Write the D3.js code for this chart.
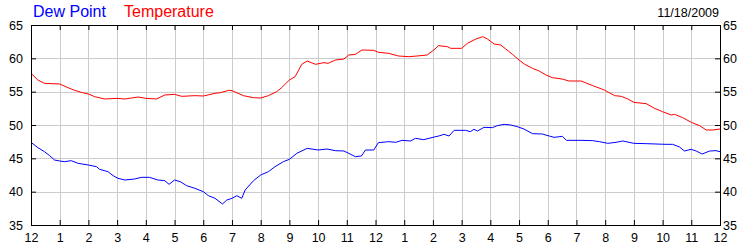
<!DOCTYPE html>
<html>
<head>
<meta charset="utf-8">
<script src="https://cdn.jsdelivr.net/npm/d3@7"></script>
<style>
  html, body { margin: 0; padding: 0; background: #fff; }
  svg { display: block; font-family: "Liberation Sans", Arial, sans-serif; }
</style>
</head>
<body>
<div id="chart"></div>
<script>
// hours since midnight, 11/18/2009
const tempHours = [0, 0.24, 0.47, 1.0, 1.29, 1.52, 1.75, 2.0, 2.22, 2.57, 3.0, 3.27, 3.73, 4.0, 4.37, 4.66,
  5.0, 5.25, 5.71, 6.0, 6.41, 6.6, 6.88, 7.0, 7.4, 7.75, 8.0, 8.27, 8.56, 8.73, 9.0, 9.2, 9.43, 9.62,
  9.91, 10.2, 10.35, 10.6, 10.9, 11.07, 11.3, 11.53, 11.94, 12.1, 12.46, 12.8, 13.16, 13.45, 13.8,
  14.03, 14.2, 14.5, 14.62, 15.0, 15.2, 15.5, 15.73, 15.9, 16.13, 16.36, 16.54, 16.77, 17.0, 17.2,
  17.47, 17.7, 17.94, 18.16, 18.5, 18.74, 19.16, 19.57, 19.97, 20.33, 20.56, 20.79, 21.0, 21.43,
  21.72, 22.0, 22.3, 22.42, 22.7, 23.0, 23.29, 23.52, 23.75, 24.0];
const tempValues = [57.75, 56.75, 56.25, 56.15, 55.6, 55.2, 54.9, 54.65, 54.25, 53.9, 54.0, 53.9, 54.2, 54.0, 53.9, 54.5,
  54.6, 54.3, 54.4, 54.35, 54.75, 54.85, 55.2, 55.15, 54.4, 54.1, 54.05, 54.4, 55.0, 55.6, 56.75, 57.25, 59.1, 59.6,
  59.1, 59.35, 59.25, 59.75, 59.9, 60.5, 60.6, 61.25, 61.2, 60.9, 60.75, 60.35, 60.25, 60.35, 60.5,
  61.25, 61.9, 61.75, 61.5, 61.5, 62.25, 62.9, 63.25, 62.9, 62.15, 62.0, 61.4, 60.6, 59.75, 59.1,
  58.5, 58.1, 57.5, 57.1, 56.9, 56.6, 56.6, 55.9, 55.25, 54.4, 54.3, 53.9, 53.4, 53.2,
  52.5, 52.0, 51.5, 51.6, 51.1, 50.4, 49.9, 49.25, 49.25, 49.4];

const dewHours = [0, 0.24, 0.47, 0.65, 0.82, 1.0, 1.17, 1.4, 1.64, 2.0, 2.28, 2.39, 2.68, 2.86, 3.03, 3.27, 3.61, 3.84,
  4.13, 4.42, 4.66, 4.81, 5.0, 5.2, 5.42, 5.71, 6.0, 6.18, 6.41, 6.67, 6.82, 7.0, 7.17, 7.34, 7.46, 7.75, 8.0,
  8.27, 8.5, 8.79, 9.0, 9.26, 9.62, 10.0, 10.31, 10.6, 10.9, 11.07, 11.3, 11.51, 11.65, 11.94, 12.1, 12.46,
  12.7, 12.93, 13.22, 13.39, 13.68, 14.0, 14.2, 14.39, 14.56, 14.74, 15.14, 15.3, 15.43, 15.55, 15.78, 16.07,
  16.24, 16.48, 16.71, 16.94, 17.17, 17.47, 17.81, 18.05, 18.22, 18.51, 18.65, 19.16, 19.57, 19.8, 20.09,
  20.38, 20.61, 21.0, 21.43, 21.77, 22.12, 22.35, 22.59, 22.76, 23.0, 23.17, 23.38, 23.64, 23.86, 24.0];
const dewValues = [47.4, 46.6, 46.0, 45.4, 44.75, 44.6, 44.5, 44.65, 44.25, 44.0, 43.75, 43.35, 43.0, 42.4, 42.0, 41.75, 41.9, 42.15,
  42.15, 41.75, 41.65, 41.1, 41.75, 41.5, 40.9, 40.5, 40.0, 39.4, 39.0, 38.15, 38.75, 39.0, 39.4, 39.0, 40.25, 41.65, 42.5,
  43.0, 43.75, 44.5, 44.85, 45.75, 46.5, 46.25, 46.4, 46.15, 46.1, 45.75, 45.25, 45.35, 46.25, 46.25, 47.35, 47.5,
  47.4, 47.7, 47.6, 48.0, 47.8, 48.15, 48.35, 48.6, 48.35, 49.2, 49.2, 49.0, 49.35, 49.1, 49.65, 49.6,
  49.9, 50.1, 50.0, 49.75, 49.4, 48.7, 48.65, 48.35, 48.15, 48.3, 47.7, 47.7, 47.65, 47.5, 47.25,
  47.4, 47.6, 47.25, 47.2, 47.15, 47.1, 47.1, 46.7, 46.1, 46.35, 46.1, 45.65, 46.1, 46.15, 46.0];

const hourTicks = d3.range(0, 25);
const yTicks = [35, 40, 45, 50, 55, 60, 65];
const legendNames = ['Dew Point', 'Temperature'];
const dateLabel = '11/18/2009';

const width = 750, height = 250;
const margin = { top: 25, right: 30, bottom: 25, left: 31 };

const svg = d3.select('#chart').append('svg')
  .attr('width', width)
  .attr('height', height);

const x = d3.scaleLinear().domain([0, 24]).range([margin.left, width - margin.right - 0]);
const y = d3.scaleLinear().domain([35, 65]).range([height - margin.bottom, margin.top]);

// grid
svg.append('g').selectAll('line')
  .data(hourTicks.slice(1, -1))
  .enter().append('line')
  .attr('x1', d => Math.round(x(d)) + 0.5).attr('x2', d => Math.round(x(d)) + 0.5)
  .attr('y1', y(65)).attr('y2', y(35))
  .attr('stroke', '#cccccc');

svg.append('g').selectAll('line')
  .data(yTicks.slice(1, -1))
  .enter().append('line')
  .attr('x1', x(0)).attr('x2', x(24))
  .attr('y1', d => Math.round(y(d)) + 0.5).attr('y2', d => Math.round(y(d)) + 0.5)
  .attr('stroke', '#cccccc');

// series
const line = d3.line()
  .x(d => x(d[0]))
  .y(d => y(d[1]));

svg.append('path')
  .datum(d3.zip(tempHours, tempValues))
  .attr('fill', 'none')
  .attr('stroke', '#ff0000')
  .attr('stroke-width', 1)
  .attr('d', line);

svg.append('path')
  .datum(d3.zip(dewHours, dewValues))
  .attr('fill', 'none')
  .attr('stroke', '#0000ff')
  .attr('stroke-width', 1)
  .attr('d', line);

// axes, ticks point inward
const hourFormat = d => (d % 12) || 12;

const styleAxis = g => {
  g.select('.domain').remove();
  g.selectAll('.tick line').attr('stroke', '#000');
  g.selectAll('.tick text').attr('fill', '#000').attr('font-size', '12.5px');
};

svg.append('g')
  .attr('transform', `translate(0,${y(35)})`)
  .call(d3.axisBottom(x).tickValues(hourTicks).tickFormat(hourFormat).tickSizeInner(-5).tickSizeOuter(0).tickPadding(8))
  .call(styleAxis)
  .attr('font-family', null);

svg.append('g')
  .attr('transform', `translate(0,${y(65)})`)
  .call(d3.axisTop(x).tickValues(hourTicks.slice(1, -1)).tickFormat('').tickSizeInner(-5).tickSizeOuter(0))
  .call(styleAxis);

svg.append('g')
  .attr('transform', `translate(${x(0)},0)`)
  .call(d3.axisLeft(y).tickValues(yTicks).tickSizeInner(-5).tickSizeOuter(0).tickPadding(8))
  .call(styleAxis)
  .attr('font-family', null);

svg.append('g')
  .attr('transform', `translate(${x(24)},0)`)
  .call(d3.axisRight(y).tickValues(yTicks).tickSizeInner(-5).tickSizeOuter(0).tickPadding(3))
  .call(styleAxis)
  .attr('font-family', null);

// frame
svg.append('rect')
  .attr('x', x(0) + 0.5).attr('y', y(65) + 0.5)
  .attr('width', x(24) - x(0)).attr('height', y(35) - y(65))
  .attr('fill', 'none')
  .attr('stroke', '#000');

// legend + date
svg.append('text')
  .attr('x', 33).attr('y', 17)
  .attr('font-size', '16px').attr('fill', '#0000ff')
  .text(legendNames[0]);
svg.append('text')
  .attr('x', 124).attr('y', 17)
  .attr('font-size', '16px').attr('fill', '#ff0000')
  .text(legendNames[1]);
svg.append('text')
  .attr('x', 719).attr('y', 17)
  .attr('text-anchor', 'end')
  .attr('font-size', '12.5px').attr('fill', '#000')
  .text(dateLabel);
</script>
</body>
</html>
